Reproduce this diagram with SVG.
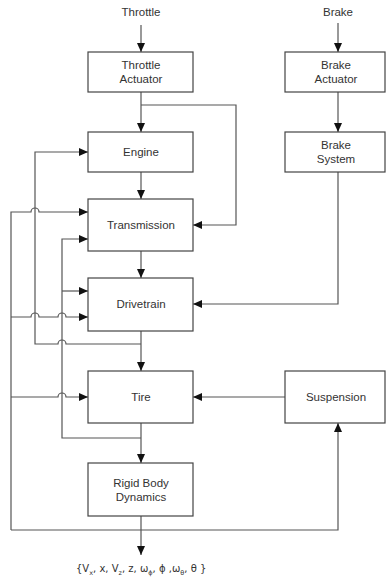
<svg xmlns="http://www.w3.org/2000/svg" width="386" height="579" viewBox="0 0 386 579">
<style>
.box{fill:#fff;stroke:#444;stroke-width:1.2}
.lbl{font-family:"Liberation Sans",Arial,sans-serif;font-size:11.5px;fill:#333;text-anchor:middle}
.ln{fill:none;stroke:#555;stroke-width:1.2}
.arr{marker-end:url(#ah)}
</style>
<defs>
<marker id="ah" markerUnits="userSpaceOnUse" markerWidth="9" markerHeight="8" refX="9" refY="4" orient="auto">
<path d="M0,0 L9,4 L0,8 z" fill="#111"/>
</marker>
</defs>
<rect width="386" height="579" fill="#fff"/>
<text class="lbl" x="141" y="16">Throttle</text>
<text class="lbl" x="338" y="16">Brake</text>
<g id="connectors">
<path class="ln arr" d="M141,25 V52"/>
<path class="ln arr" d="M141,92 V132"/>
<path class="ln arr" d="M141,105 H236 V225 H193"/>
<path class="ln arr" d="M141,172 V199"/>
<path class="ln arr" d="M141,251 V278"/>
<path class="ln arr" d="M141,331 V371"/>
<path class="ln arr" d="M141,423 V463"/>
<path class="ln arr" d="M141,516 V555"/>
<path class="ln arr" d="M11,530 H338 V423"/>
<path class="ln arr" d="M11,530 V212 H31 a4,4 0 0 1 8,0 H88"/>
<path class="ln arr" d="M11,317 H31 a4,4 0 0 1 8,0 H58 a4,4 0 0 1 8,0 H88"/>
<path class="ln arr" d="M11,397 H58 a4,4 0 0 1 8,0 H88"/>
<path class="ln arr" d="M141,344 H66 a4,4 0 0 0 -8,0 H35 V152 H88"/>
<path class="ln arr" d="M141,438 H62 V239 H88"/>
<path class="ln arr" d="M62,291 H88"/>
<path class="ln arr" d="M338,23 V52"/>
<path class="ln arr" d="M338,92 V132"/>
<path class="ln arr" d="M338,172 V304 H193"/>
<path class="ln arr" d="M285,397 H193"/>
</g>
<g id="throttle-actuator">
<rect class="box" x="88" y="52" width="105" height="40"/>
<text class="lbl" x="141" y="69">Throttle</text>
<text class="lbl" x="141" y="83">Actuator</text>
</g>
<g id="engine">
<rect class="box" x="88" y="132" width="105" height="40"/>
<text class="lbl" x="141" y="156">Engine</text>
</g>
<g id="transmission">
<rect class="box" x="88" y="199" width="105" height="52"/>
<text class="lbl" x="141" y="229">Transmission</text>
</g>
<g id="drivetrain">
<rect class="box" x="88" y="278" width="105" height="53"/>
<text class="lbl" x="141" y="308">Drivetrain</text>
</g>
<g id="tire">
<rect class="box" x="88" y="371" width="105" height="52"/>
<text class="lbl" x="141" y="401">Tire</text>
</g>
<g id="rigid-body">
<rect class="box" x="88" y="463" width="105" height="53"/>
<text class="lbl" x="141" y="487">Rigid Body</text>
<text class="lbl" x="141" y="501">Dynamics</text>
</g>
<g id="brake-actuator">
<rect class="box" x="285" y="52" width="100" height="40"/>
<text class="lbl" x="336" y="69">Brake</text>
<text class="lbl" x="336" y="83">Actuator</text>
</g>
<g id="brake-system">
<rect class="box" x="285" y="132" width="100" height="40"/>
<text class="lbl" x="336" y="149">Brake</text>
<text class="lbl" x="336" y="163">System</text>
</g>
<g id="suspension">
<rect class="box" x="285" y="371" width="100" height="52"/>
<text class="lbl" x="336" y="401">Suspension</text>
</g>
<text x="76" y="572" style="font-family:'DejaVu Sans','Liberation Sans',sans-serif;font-size:10px;fill:#333">{V<tspan font-size="6.5" dy="3">x</tspan><tspan dy="-3">, x, V</tspan><tspan font-size="6.5" dy="3">z</tspan><tspan dy="-3">, z, ω</tspan><tspan font-size="6.5" dy="3">ϕ</tspan><tspan dy="-3">, ϕ ,ω</tspan><tspan font-size="6.5" dy="3">θ</tspan><tspan dy="-3">, θ }</tspan></text>
</svg>
